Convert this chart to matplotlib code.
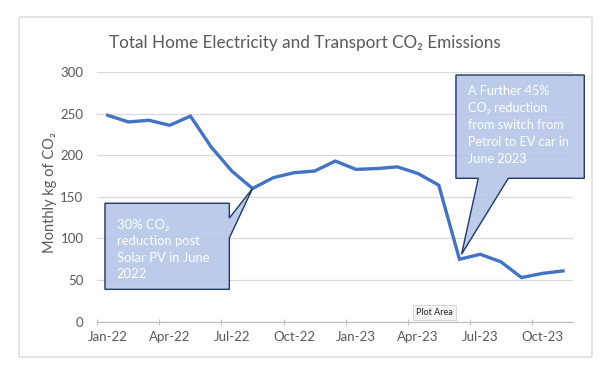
import numpy as np
import matplotlib
matplotlib.use("Agg")
import matplotlib.pyplot as plt
from matplotlib.patches import Polygon, FancyBboxPatch

plt.rcParams['font.family'] = ['Lato', 'DejaVu Sans']

# data: monthly kg of CO2, Jan-22 .. Nov-23
months = ['Jan-22', 'Feb-22', 'Mar-22', 'Apr-22', 'May-22', 'Jun-22', 'Jul-22', 'Aug-22',
          'Sep-22', 'Oct-22', 'Nov-22', 'Dec-22', 'Jan-23', 'Feb-23', 'Mar-23', 'Apr-23',
          'May-23', 'Jun-23', 'Jul-23', 'Aug-23', 'Sep-23', 'Oct-23', 'Nov-23']
co2 = [248, 240, 242, 236, 247, 210, 181, 160, 173, 179, 181, 193,
       183, 184, 186, 178, 164, 75, 81, 72, 53, 58, 61]
tick_labels = ['Jan-22', 'Apr-22', 'Jul-22', 'Oct-22', 'Jan-23', 'Apr-23', 'Jul-23', 'Oct-23']
yticks = [0, 50, 100, 150, 200, 250, 300]

note1 = "30% CO\u2082\nreduction post\nSolar PV in June\n2022"
note2 = "A Further 45%\nCO\u2082 reduction\nfrom switch from\nPetrol to EV car in\nJune 2023"

W, H = 614, 374
fig = plt.figure(figsize=(W / 100, H / 100), dpi=100)

# outer chart frame
fig.patches.append(FancyBboxPatch((19 / W, 1 - 357 / H), (592 - 19) / W, (357 - 17) / H,
                                  boxstyle="round,pad=0,rounding_size=0.003",
                                  transform=fig.transFigure, facecolor='none',
                                  edgecolor='#d9d9d9', linewidth=1.0, zorder=0))

ax = fig.add_axes([97.3 / W, 1 - 321.7 / H, (573.3 - 97.3) / W, (321.7 - 72) / H])
ax.patch.set_alpha(0)

x = np.arange(len(months)) + 0.5
ax.plot(x, co2, color='#4472C4', linewidth=2.4, solid_joinstyle='miter', zorder=3)

ax.set_xlim(0, len(months))
ax.set_ylim(0, 300)
ax.set_yticks(yticks)
# tick marks at month boundaries, labels at month centres
pos = [months.index(m) for m in tick_labels]
ax.set_xticks(pos)
ax.set_xticklabels([])
ax.set_xticks([p + 0.5 for p in pos], minor=True)
ax.set_xticklabels(tick_labels, minor=True)
ax.grid(axis='y', color='#d9d9d9', linewidth=0.9)
ax.set_axisbelow(True)
for s in ['top', 'right', 'left']:
    ax.spines[s].set_visible(False)
ax.spines['bottom'].set_color('#bfbfbf')
ax.spines['bottom'].set_linewidth(0.9)
ax.tick_params(axis='y', length=0, labelsize=9.5, labelcolor='#595959', pad=10)
ax.tick_params(axis='x', which='major', direction='inout', length=5, color='#bfbfbf')
ax.tick_params(axis='x', which='minor', length=0, labelsize=9.5, labelcolor='#595959', pad=7)

fig.text(305 / W, 1 - 43 / H, "Total Home Electricity and Transport CO\u2082 Emissions",
         ha='center', va='center', fontsize=12.3, color='#595959')
fig.text(50 / W, 1 - 193 / H, "Monthly kg of CO\u2082", rotation=90, ha='center', va='center',
         fontsize=10.5, color='#595959')

box_fc = (0.70, 0.77, 0.90, 0.88)
box_ec = '#1f3864'

# callout 1 -> Aug-22 point
i1 = months.index('Aug-22')
tip1 = (x[i1], co2[i1])
call1 = [(0.37, 142.3), (6.38, 142.3), (6.38, 124.6), tip1, (6.38, 100.6), (6.38, 38.9), (0.37, 38.9)]
ax.add_patch(Polygon(call1, closed=True, facecolor=box_fc, edgecolor=box_ec, linewidth=1.0,
                     zorder=4, clip_on=False))
ax.text(0.93, 123.5, note1, ha='left', va='top', color='white', fontsize=9.4,
        linespacing=1.45, zorder=5)

# callout 2 -> Jun-23 point
i2 = months.index('Jun-23')
tip2 = (x[i2] + 0.1, co2[i2] + 6)
call2 = [(17.33, 296.4), (23.53, 296.4), (23.53, 172.3), (19.86, 172.3), tip2, (18.41, 172.3),
         (17.33, 172.3)]
ax.add_patch(Polygon(call2, closed=True, facecolor=box_fc, edgecolor=box_ec, linewidth=1.0,
                     zorder=4, clip_on=False))
ax.text(17.9, 284.5, note2, ha='left', va='top', color='white', fontsize=9.1,
        linespacing=1.5, zorder=5, clip_on=False)

# "Plot Area" tooltip
fig.text(434.5 / W, 1 - 312.5 / H, "Plot Area", ha='center', va='center', fontsize=6.5,
         color='#222222',
         bbox=dict(boxstyle='square,pad=0.35', facecolor='#f4f4f4', edgecolor='#d0d0d0',
                   linewidth=0.6))

fig.savefig("out.png", dpi=100)
